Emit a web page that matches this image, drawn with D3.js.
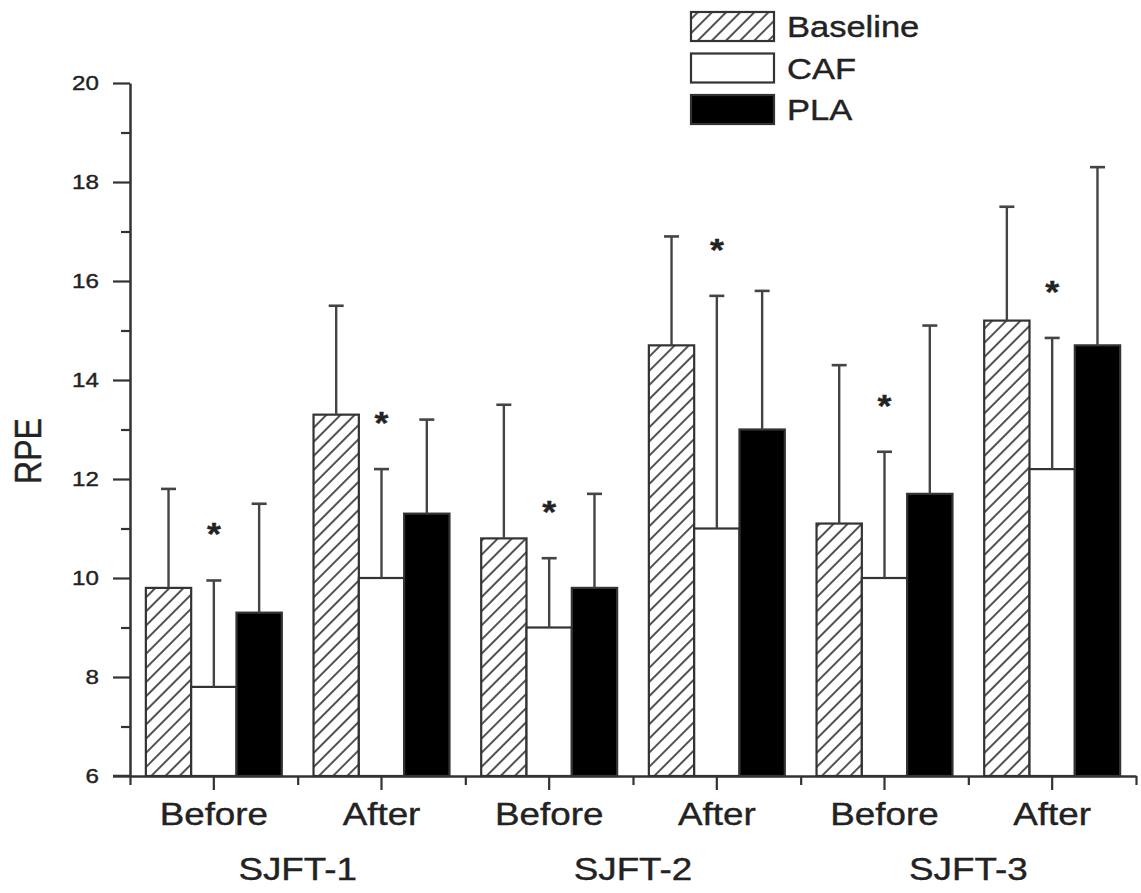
<!DOCTYPE html>
<html>
<head>
<meta charset="utf-8">
<script src="https://cdn.jsdelivr.net/npm/d3@7"></script>
<style>
  html, body { margin: 0; padding: 0; background: #fff; }
  svg { display: block; font-family: "Liberation Sans", Arial, sans-serif; }
  svg text { stroke: #222; stroke-width: 0.4px; }
</style>
</head>
<body>
<div id="chart"></div>
<script>
// chart data
const groups = ["SJFT-1 Before", "SJFT-1 After", "SJFT-2 Before", "SJFT-2 After", "SJFT-3 Before", "SJFT-3 After"];
const phaseLabels = ["Before", "After", "Before", "After", "Before", "After"];
const testLabels = ["SJFT-1", "SJFT-2", "SJFT-3"];
const seriesNames = ["Baseline", "CAF", "PLA"];

const baselineMean = [9.8, 13.3, 10.8, 14.7, 11.1, 15.2];
const baselineSD = [2.0, 2.2, 2.7, 2.2, 3.2, 2.3];
const cafMean = [7.8, 10.0, 9.0, 11.0, 10.0, 12.2];
const cafSD = [2.15, 2.2, 1.4, 4.7, 2.55, 2.65];
const plaMean = [9.3, 11.3, 9.8, 13.0, 11.7, 14.7];
const plaSD = [2.2, 1.9, 1.9, 2.8, 3.4, 3.6];
const cafSignificant = [true, true, true, true, true, true];

const yMajorTicks = [6, 8, 10, 12, 14, 16, 18, 20];
const yMinorTicks = [7, 9, 11, 13, 15, 17, 19];

const width = 1141;
const height = 893;
const margin = { top: 83, right: 5, bottom: 117, left: 130 };
const innerW = width - margin.left - margin.right;
const innerH = height - margin.top - margin.bottom;
const ink = "#333";
const stretch = "scale(1.15,1)"; // the reference text is a bit wide

const rows = groups.map((g, i) => ({
  group: g,
  values: [
    { key: "Baseline", mean: baselineMean[i], sd: baselineSD[i] },
    { key: "CAF", mean: cafMean[i], sd: cafSD[i], sig: cafSignificant[i] },
    { key: "PLA", mean: plaMean[i], sd: plaSD[i] }
  ]
}));

const svg = d3.select("#chart").append("svg")
  .attr("width", width)
  .attr("height", height);

// hatch for baseline
const defs = svg.append("defs");
defs.append("pattern")
  .attr("id", "hatch")
  .attr("patternUnits", "userSpaceOnUse")
  .attr("width", 10)
  .attr("height", 10)
  .attr("patternTransform", "rotate(45)")
  .append("line")
  .attr("x1", 5).attr("y1", 0)
  .attr("x2", 5).attr("y2", 10)
  .attr("stroke", "#333")
  .attr("stroke-width", 1.7);

const fills = { Baseline: "url(#hatch)", CAF: "#fff", PLA: "#000" };

const g = svg.append("g")
  .attr("transform", `translate(${margin.left},${margin.top})`);

const x0 = d3.scaleBand().domain(groups).range([0, innerW]).padding(0);
const x1 = d3.scaleBand().domain(seriesNames).range([0, x0.bandwidth()])
  .paddingInner(0).paddingOuter(0.35);
const y = d3.scaleLinear().domain([6, 20]).range([innerH, 0]);

// bars
const groupSel = g.selectAll("g.grp")
  .data(rows)
  .join("g")
  .attr("class", "grp")
  .attr("transform", d => `translate(${x0(d.group)},0)`);

groupSel.selectAll("rect")
  .data(d => d.values)
  .join("rect")
  .attr("x", d => x1(d.key))
  .attr("y", d => y(d.mean))
  .attr("width", x1.bandwidth())
  .attr("height", d => innerH - y(d.mean))
  .attr("fill", d => fills[d.key])
  .attr("stroke", ink)
  .attr("stroke-width", 2.2);

// error bars (upper only)
const err = groupSel.selectAll("g.err")
  .data(d => d.values)
  .join("g")
  .attr("class", "err")
  .attr("transform", d => `translate(${x1(d.key) + x1.bandwidth() / 2},0)`);

err.append("line")
  .attr("x1", 0).attr("x2", 0)
  .attr("y1", d => y(d.mean))
  .attr("y2", d => y(d.mean + d.sd))
  .attr("stroke", "#444")
  .attr("stroke-width", 2.4);

err.append("line")
  .attr("x1", -7.5).attr("x2", 7.5)
  .attr("y1", d => y(d.mean + d.sd))
  .attr("y2", d => y(d.mean + d.sd))
  .attr("stroke", "#444")
  .attr("stroke-width", 2.6);

err.filter(d => d.sig)
  .append("text")
  .attr("transform", d => `translate(0,${y(d.mean + d.sd) - 35}) ${stretch}`)
  .attr("text-anchor", "middle")
  .attr("font-size", 31)
  .attr("font-weight", "bold")
  .attr("fill", "#222")
  .text("*");

// y axis
const yAxis = g.append("g")
  .call(d3.axisLeft(y).tickValues(yMajorTicks).tickSize(17).tickSizeOuter(0).tickFormat(d3.format("d")));
yAxis.select(".domain").attr("stroke", ink).attr("stroke-width", 2.5);
yAxis.selectAll(".tick line").attr("stroke", ink).attr("stroke-width", 2.2);
yAxis.selectAll("text")
  .attr("x", -27)
  .attr("transform", stretch)
  .attr("font-size", 21)
  .attr("fill", "#222");

const yMinor = g.append("g")
  .call(d3.axisLeft(y).tickValues(yMinorTicks).tickSize(9).tickFormat(""));
yMinor.select(".domain").remove();
yMinor.selectAll(".tick line").attr("stroke", ink).attr("stroke-width", 2.2);

// x axis: labelled ticks at group centres, short ticks at group edges
const xAxis = g.append("g")
  .attr("transform", `translate(0,${innerH})`)
  .call(d3.axisBottom(x0).tickSize(14).tickSizeOuter(0).tickFormat((d, i) => phaseLabels[i]));
xAxis.select(".domain").attr("stroke", ink).attr("stroke-width", 2.5);
xAxis.selectAll(".tick line").attr("stroke", ink).attr("stroke-width", 2.2);
xAxis.selectAll("text")
  .attr("y", 49)
  .attr("dy", 0)
  .attr("transform", stretch)
  .attr("font-size", 32)
  .attr("fill", "#222");

const edges = groups.map(d => x0(d)).concat([x0.range()[1]]);
const xEdge = g.append("g")
  .attr("transform", `translate(0,${innerH})`)
  .call(d3.axisBottom(d3.scaleLinear().domain([0, innerW]).range([0, innerW]))
    .tickValues(edges).tickSize(9).tickFormat(""));
xEdge.select(".domain").remove();
xEdge.selectAll(".tick line").attr("stroke", ink).attr("stroke-width", 2.2);

// extend baseline tick at 6 to the left like the original
g.append("line")
  .attr("x1", -17).attr("x2", 0)
  .attr("y1", y(6)).attr("y2", y(6))
  .attr("stroke", ink).attr("stroke-width", 2.5);

// test labels under each before/after pair
g.selectAll("text.test")
  .data(testLabels)
  .join("text")
  .attr("class", "test")
  .attr("transform", (d, i) => `translate(${x0(groups[i * 2 + 1])},${innerH + 104}) ${stretch}`)
  .attr("text-anchor", "middle")
  .attr("font-size", 32)
  .attr("fill", "#222")
  .text(d => d);

// y label
svg.append("text")
  .attr("transform", `translate(41,451) rotate(-90) scale(1,1.15)`)
  .attr("text-anchor", "middle")
  .attr("font-size", 32)
  .attr("fill", "#222")
  .text("RPE");

// legend
const legend = svg.append("g")
  .attr("transform", "translate(691,12)");

const item = legend.selectAll("g")
  .data(seriesNames)
  .join("g")
  .attr("transform", (d, i) => `translate(0,${i * 41.5})`);

item.append("rect")
  .attr("width", 83)
  .attr("height", 29)
  .attr("fill", d => fills[d])
  .attr("stroke", ink)
  .attr("stroke-width", 2.2);

item.append("text")
  .attr("transform", `translate(96,25) ${stretch}`)
  .attr("font-size", 30)
  .attr("fill", "#222")
  .text(d => d);
</script>
</body>
</html>
